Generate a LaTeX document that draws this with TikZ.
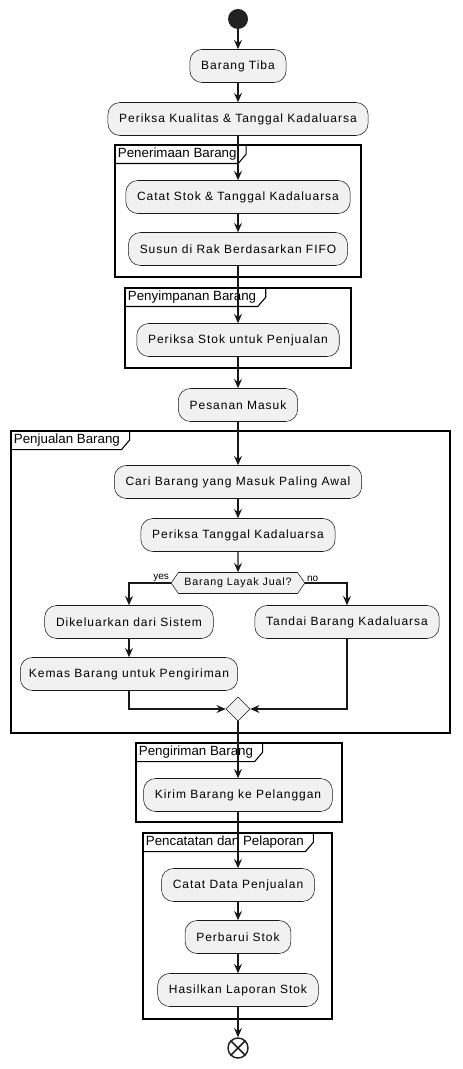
\documentclass[tikz,border=0pt]{standalone}
\usepackage{fontspec}
\setmainfont{Liberation Sans}
\newfontfamily\actfont[LetterSpace=8]{Liberation Sans}
\usetikzlibrary{arrows.meta,calc,positioning,shapes.geometric,shapes.symbols}
\definecolor{my_fill}{HTML}{F1F1F1}
\definecolor{my_line}{HTML}{181818}
\definecolor{my_dot}{HTML}{222222}
\tikzset{
  act_n/.style = {draw=my_line, fill=my_fill, rounded corners=9pt, minimum height=24.75pt,
  inner xsep=8.5pt, text=black, font=\actfont\fontsize{9}{11}\selectfont},
  grp_lab/.style = {anchor=north west, inner xsep=2pt, inner ysep=2pt, text height=7.5pt,
  text depth=2pt, font=\fontsize{10}{12}\selectfont},
  grp_line/.style = {draw=black, line width=1.1pt}
}

\begin{document}
\begin{tikzpicture}[x=0.75pt, y=-0.75pt,
        flow/.style={draw=my_line, line width=0.8pt, -{Stealth[length=7pt,width=6pt,inset=2.5pt]}},
        start_n/.style={circle, fill=my_dot, minimum size=15pt, inner sep=0pt},
        end_n/.style={circle, draw=my_dot, line width=1.1pt, minimum size=15pt, inner sep=0pt},
        cond_n/.style={signal, signal to=west and east, signal pointer angle=110, draw=my_line,
            fill=my_fill, minimum height=15.75pt, inner xsep=4.5pt, inner ysep=1pt,
            font=\actfont\fontsize{8}{10}\selectfont},
        merge_n/.style={diamond, draw=my_line, fill=my_fill, minimum size=18pt, inner sep=0pt},
        yn/.style={inner sep=1pt, font=\fontsize{7.5}{9}\selectfont}]
    \useasboundingbox (0,0) rectangle (462,1069);

    % group frames
    \draw[grp_line] (115,145) rectangle (361,277);
    \node[grp_lab] (g_terima) at (115,145) {Penerimaan Barang};
    \draw[grp_line] (125,288) rectangle (351,368);
    \node[grp_lab] (g_simpan) at (125,288) {Penyimpanan Barang};
    \draw[grp_line] (11,431) rectangle (450,733);
    \node[grp_lab] (g_jual) at (11,431) {Penjualan Barang};
    \draw[grp_line] (136,743) rectangle (342,822);
    \node[grp_lab] (g_kirim) at (136,743) {Pengiriman Barang};
    \draw[grp_line] (143,833) rectangle (332,1019);
    \node[grp_lab] (g_lapor) at (143,833) {Pencatatan dan Pelaporan};
    \foreach \g in {g_terima,g_simpan,g_jual,g_kirim,g_lapor}
        \draw[black, line width=0.8pt] (\g.south west) -- ([xshift=-1pt]\g.south east)
            -- ([xshift=5pt,yshift=7pt]\g.south east) -- ([xshift=5pt]\g.north east);

    % activities
    \node[start_n] (start) at (238,19) {};
    \node[act_n] (tiba) at (238,66) {Barang Tiba};
    \node[act_n] (cek_mutu) at (238,119) {Periksa Kualitas \& Tanggal Kadaluarsa};
    \node[act_n] (catat) at (238,197) {Catat Stok \& Tanggal Kadaluarsa};
    \node[act_n] (susun) at (238,249) {Susun di Rak Berdasarkan FIFO};
    \node[act_n] (cek_stok) at (238,340) {Periksa Stok untuk Penjualan};
    \node[act_n] (pesanan) at (238,405) {Pesanan Masuk};
    \node[act_n] (cari) at (238,482) {Cari Barang yang Masuk Paling Awal};
    \node[act_n] (cek_exp) at (238,535) {Periksa Tanggal Kadaluarsa};
    \node[cond_n] (layak) at (238,583) {Barang Layak Jual?};
    \node[act_n] (keluar) at (129,622) {Dikeluarkan dari Sistem};
    \node[act_n, inner xsep=6.5pt] (kemas) at (129,674) {Kemas Barang untuk Pengiriman};
    \node[act_n] (tandai) at (347,622) {Tandai Barang Kadaluarsa};
    \node[merge_n] (merge) at (238,709) {};
    \node[act_n] (kirim) at (238,795) {Kirim Barang ke Pelanggan};
    \node[act_n] (catat_jual) at (238,885) {Catat Data Penjualan};
    \node[act_n] (perbarui) at (238,937) {Perbarui Stok};
    \node[act_n] (laporan) at (238,990) {Hasilkan Laporan Stok};
    \node[end_n] (stop) at (238,1048) {};
    \draw[my_dot, line width=1.1pt] (stop.45) -- (stop.225) (stop.135) -- (stop.315);

    % connectors
    \foreach \a/\b in {start/tiba, tiba/cek_mutu, cek_mutu/catat, catat/susun, susun/cek_stok,
        cek_stok/pesanan, pesanan/cari, cari/cek_exp, cek_exp/layak, keluar/kemas,
        merge/kirim, kirim/catat_jual, catat_jual/perbarui, perbarui/laporan, laporan/stop}
        \draw[flow] (\a) -- (\b);
    \draw[flow] (layak.west) -| (keluar.north) node[yn, pos=0, above left] (yes_lab) {yes};
    \draw[flow] (layak.east) -| (tandai.north) node[yn, pos=0, above right] (no_lab) {no};
    \draw[flow] (kemas.south) |- (merge.west);
    \draw[flow] (tandai.south) |- (merge.east);
\end{tikzpicture}
\end{document}
